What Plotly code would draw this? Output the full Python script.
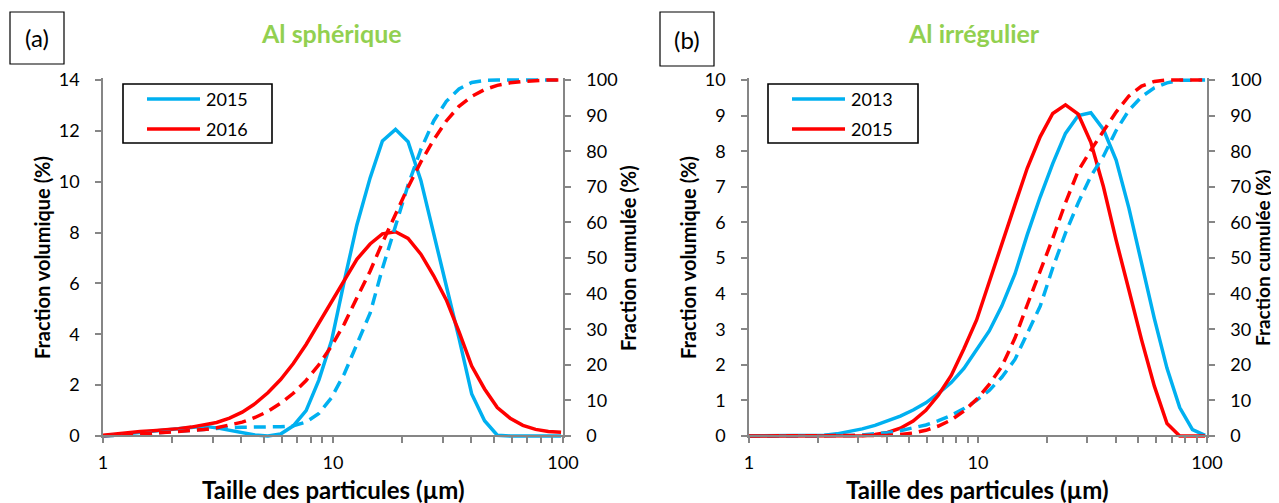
import plotly.graph_objects as go

# ---------------- data ----------------
size_um = [0.991, 1.13, 1.28, 1.45, 1.65, 1.88, 2.13, 2.42, 2.75, 3.12, 3.55, 4.03, 4.58,
           5.21, 5.92, 6.72, 7.64, 8.68, 9.86, 11.2, 12.7, 14.5, 16.4, 18.7, 21.2, 24.1,
           27.4, 31.1, 35.3, 40.1, 45.6, 51.8, 58.9, 66.9, 76.0, 86.4, 98.1]

# (a) Al spherique
vol_a_2015 = [0, 0.05, 0.10, 0.15, 0.20, 0.24, 0.30, 0.36, 0.38, 0.32, 0.22, 0.12, 0.04,
              0.0, 0.08, 0.40, 1.00, 2.20, 3.75, 6.10, 8.30, 10.15, 11.60, 12.06, 11.57,
              10.05, 7.90, 5.90, 3.85, 1.65, 0.60, 0.03, 0, 0, 0, 0, 0]
vol_a_2016 = [0.03, 0.09, 0.14, 0.18, 0.21, 0.24, 0.29, 0.35, 0.43, 0.53, 0.70, 0.94, 1.27,
              1.70, 2.22, 2.85, 3.60, 4.45, 5.30, 6.15, 6.95, 7.55, 7.95, 8.03, 7.77, 7.15,
              6.30, 5.35, 4.10, 2.75, 1.85, 1.12, 0.70, 0.42, 0.26, 0.18, 0.15]
cum_a_2015 = [0, 0.1, 0.3, 0.55, 0.8, 1.1, 1.4, 1.7, 2.0, 2.2, 2.35, 2.45, 2.5, 2.5, 2.6,
              2.9, 3.9, 6.3, 10.8, 17.5, 25.5, 34.5, 47.0, 59.0, 70.5, 80.5, 88.5, 94.0,
              97.5, 99.3, 99.9, 100, 100, 100, 100, 100, 100]
cum_a_2016 = [0.03, 0.15, 0.35, 0.6, 0.8, 1.0, 1.2, 1.45, 1.8, 2.3, 3.0, 3.9, 5.2, 6.9,
              9.2, 12.0, 15.6, 20.0, 25.3, 31.5, 38.8, 46.3, 54.3, 62.2, 69.9, 77.0, 83.2,
              88.5, 92.6, 95.4, 97.3, 98.5, 99.2, 99.6, 99.85, 100, 100]

# (b) Al irregulier
vol_b_2013 = [0, 0, 0, 0, 0, 0, 0.02, 0.06, 0.12, 0.20, 0.30, 0.42, 0.56, 0.73, 0.93, 1.20,
              1.50, 1.90, 2.42, 2.95, 3.65, 4.55, 5.65, 6.72, 7.65, 8.50, 9.00, 9.08, 8.61,
              7.75, 6.40, 4.80, 3.30, 1.90, 0.80, 0.18, 0.02]
vol_b_2015 = [0, 0, 0, 0, 0, 0, 0, 0, 0, 0.01, 0.04, 0.10, 0.22, 0.42, 0.72, 1.15, 1.70,
              2.45, 3.26, 4.35, 5.40, 6.50, 7.52, 8.41, 9.06, 9.30, 9.04, 8.25, 7.00, 5.50,
              4.10, 2.70, 1.40, 0.35, 0, 0, 0]
cum_b_2013 = [0, 0, 0, 0, 0, 0, 0.02, 0.06, 0.15, 0.30, 0.55, 0.95, 1.5, 2.2, 3.1, 4.3, 5.8,
              7.7, 10.0, 12.8, 16.5, 21.5, 28.5, 36.5, 47.2, 57.0, 65.5, 73.0, 78.6, 85.8,
              91.5, 95.3, 97.8, 99.2, 99.9, 100, 100]
cum_b_2015 = [0, 0, 0, 0, 0, 0, 0, 0, 0, 0.02, 0.07, 0.18, 0.4, 0.85, 1.6, 2.8, 4.5, 7.0,
              10.3, 14.5, 19.5, 27.5, 36.8, 46.2, 55.5, 65.5, 74.5, 80.3, 85.6, 91.0, 95.5,
              98.3, 99.6, 100, 100, 100, 100]

x_tick_vals = [1, 2, 3, 4, 5, 6, 7, 8, 9, 10, 20, 30, 40, 50, 60, 70, 80, 90, 100]
x_tick_text = ["1", "", "", "", "", "", "", "", "", "10", "", "", "", "", "", "", "", "", "100"]
ya_ticks = [0, 2, 4, 6, 8, 10, 12, 14]
yb_ticks = [0, 1, 2, 3, 4, 5, 6, 7, 8, 9, 10]
cum_ticks = [0, 10, 20, 30, 40, 50, 60, 70, 80, 90, 100]

# ---------------- style ----------------
W, H = 1279, 503
OFF = 8          # page body margin: the figure is drawn 8 px right/down of the window corner
BLUE = "#00B0F0"
RED = "#FF0000"
GREEN = "#92D050"
AXC = "#868686"
FONT = "Lato"
LW = 3.5
DASH = "12px,7px"
TOP, BOT = 80, 436   # plot area top / bottom (window px)
PAD = 2              # extra px so lines lying on 0 / 100 % are not clipped


def fx(p):
    return (p - OFF) / W


def fy(p):
    return 1 - (p - OFF) / H


def padded(lo, hi):
    u = (hi - lo) / (BOT - TOP)
    return [lo - PAD * u, hi + PAD * u]


fig = go.Figure()


def add(x, y, xa, ya, color, dashed, name):
    fig.add_trace(go.Scatter(
        x=x, y=y, xaxis=xa, yaxis=ya, mode="lines", name=name, showlegend=False,
        line=dict(color=color, width=LW, dash=DASH if dashed else "solid"),
        hoverinfo="skip"))


add(size_um, vol_a_2015, "x", "y", BLUE, False, "2015")
add(size_um, vol_a_2016, "x", "y", RED, False, "2016")
add(size_um, cum_a_2015, "x", "y2", BLUE, True, "2015 cumulée")
add(size_um, cum_a_2016, "x", "y2", RED, True, "2016 cumulée")
add(size_um, vol_b_2013, "x2", "y3", BLUE, False, "2013")
add(size_um, vol_b_2015, "x2", "y3", RED, False, "2015")
add(size_um, cum_b_2013, "x2", "y4", BLUE, True, "2013 cumulée")
add(size_um, cum_b_2015, "x2", "y4", RED, True, "2015 cumulée")

tickfont = dict(family=FONT, size=18, color="#000000")
common = dict(showline=True, linecolor=AXC, linewidth=1.5, ticks="outside", ticklen=6,
              tickcolor=AXC, tickwidth=1.5, showgrid=False, zeroline=False,
              tickfont=tickfont, fixedrange=True, automargin=False)

ydom = [fy(BOT + PAD), fy(TOP - PAD)]


def xax(dom):
    return dict(domain=dom, anchor="free", position=fy(BOT), type="log", range=[0, 2],
                tickmode="array", tickvals=x_tick_vals, ticktext=x_tick_text,
                ticklabelstandoff=5, **common)


def yax_left(anchor, ticks):
    return dict(domain=ydom, anchor=anchor, range=padded(ticks[0], ticks[-1]),
                tickmode="array", tickvals=ticks, ticklabelstandoff=12, **common)


def yax_right(over, anchor, ticks):
    return dict(overlaying=over, side="right", anchor=anchor,
                range=padded(ticks[0], ticks[-1]), tickmode="array", tickvals=ticks,
                ticklabelstandoff=12, **common)


annotations = []


def ann(text, x, y, size, bold=False, color="#000000", angle=0, xanchor="center"):
    annotations.append(dict(
        text=("<b>%s</b>" % text) if bold else text, x=fx(x), y=fy(y), xref="paper",
        yref="paper", showarrow=False, textangle=angle, xanchor=xanchor, yanchor="middle",
        font=dict(family=FONT, size=size, color=color)))


ann("(a)", 37, 38, 24)
ann("(b)", 687, 39, 24)
ann("Al sphérique", 331, 33, 25, bold=True, color=GREEN)
ann("Al irrégulier", 974, 33, 25, bold=True, color=GREEN)
ann("Fraction volumique (%)", 42, 258, 20, bold=True, angle=-90)
ann("Fraction volumique (%)", 688, 258, 20, bold=True, angle=-90)
ann("Fraction cumulée (%)", 628, 258, 20, bold=True, angle=-90)
ann("Fraction cumulée (%)", 1262, 258, 19, bold=True, angle=-90)
ann("Taille des particules (µm)", 333, 489, 24, bold=True)
ann("Taille des particules (µm)", 978, 489, 24, bold=True)
ann("2015", 204, 99, 18, xanchor="left")
ann("2016", 204, 129, 18, xanchor="left")
ann("2013", 849, 99, 18, xanchor="left")
ann("2015", 849, 129, 18, xanchor="left")

shapes = []


def rect(x0, y0, x1, y1, w=1.2):
    shapes.append(dict(type="rect", xref="paper", yref="paper", x0=fx(x0), x1=fx(x1),
                       y0=fy(y1), y1=fy(y0), line=dict(color="#000000", width=w),
                       fillcolor="rgba(0,0,0,0)"))


def seg(x0, x1, y, color):
    shapes.append(dict(type="line", xref="paper", yref="paper", x0=fx(x0), x1=fx(x1),
                       y0=fy(y), y1=fy(y), line=dict(color=color, width=LW)))


rect(10, 12, 64, 64)
rect(660, 12, 714, 66)
rect(123, 84, 272, 143, w=1.6)
rect(768, 84, 918, 143, w=1.6)
seg(147, 200, 99, BLUE)
seg(147, 200, 129, RED)
seg(792, 845, 99, BLUE)
seg(792, 845, 129, RED)

fig.update_layout(
    width=W, height=H, margin=dict(l=0, r=0, t=0, b=0, pad=0, autoexpand=False),
    paper_bgcolor="white", plot_bgcolor="white", showlegend=False,
    font=dict(family=FONT, size=18, color="#000000"),
    xaxis=xax([fx(103), fx(563)]),
    yaxis=yax_left("x", ya_ticks),
    yaxis2=yax_right("y", "x", cum_ticks),
    xaxis2=xax([fx(749), fx(1207)]),
    yaxis3=yax_left("x2", yb_ticks),
    yaxis4=yax_right("y3", "x2", cum_ticks),
    annotations=annotations, shapes=shapes,
)

fig.write_html("out.html")
